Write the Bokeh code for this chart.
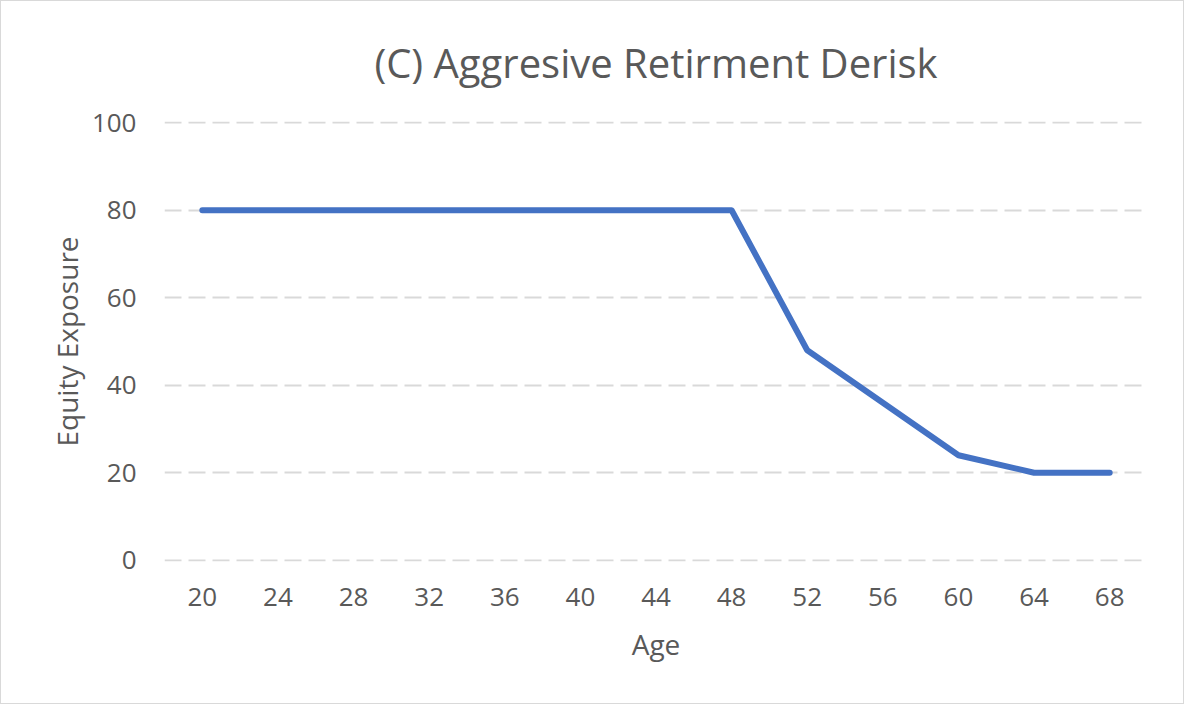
from bokeh.plotting import figure
from bokeh.models import FactorRange, Range1d, FixedTicker
from bokeh.embed import file_html
from bokeh.resources import INLINE

# data
ages = ["20", "24", "28", "32", "36", "40", "44", "48", "52", "56", "60", "64", "68"]
equity_exposure = [80, 80, 80, 80, 80, 80, 80, 80, 48, 36, 24, 20, 20]
y_ticks = [0, 20, 40, 60, 80, 100]
title_text = "(C) Aggresive Retirment Derisk"

TEXT = "#595959"
FONT = "Open Sans"

p = figure(
    width=1184, height=704,
    x_range=FactorRange(factors=ages),
    # small pad so the 0 and 100 gridlines are drawn
    y_range=Range1d(-0.3, 100.3),
    title=title_text,
    output_backend="svg", toolbar_location=None,
    min_border_left=163, min_border_right=38,
    min_border_top=120, min_border_bottom=144,
    styles={"border": "1px solid #d9d9d9"},
)

p.title.align = "center"
p.title.vertical_align = "top"
p.title.text_font = FONT
p.title.text_font_size = "40px"
p.title.text_font_style = "normal"
p.title.text_color = TEXT
p.title.standoff = 60

p.line(ages, equity_exposure, line_color="#4472C4", line_width=6,
       line_cap="round", line_join="round")

# axes: Excel style, no lines or ticks
for ax in (p.xaxis[0], p.yaxis[0]):
    ax.axis_line_color = None
    ax.major_tick_line_color = None
    ax.minor_tick_line_color = None
    ax.major_label_text_font = FONT
    ax.major_label_text_font_size = "26px"
    ax.major_label_text_color = TEXT
    ax.axis_label_text_font = FONT
    ax.axis_label_text_font_size = "28px"
    ax.axis_label_text_font_style = "normal"
    ax.axis_label_text_color = TEXT

p.xaxis.axis_label = "Age"
p.xaxis.major_label_standoff = 20
p.xaxis.axis_label_standoff = 16
p.yaxis.axis_label = "Equity Exposure"
p.yaxis.ticker = FixedTicker(ticks=y_ticks)
p.yaxis.major_label_standoff = 22
p.yaxis.axis_label_standoff = 3

p.xgrid.grid_line_color = None
p.ygrid.grid_line_color = "#d9d9d9"
p.ygrid.grid_line_width = 2
p.ygrid.grid_line_dash = "17 7"

p.outline_line_color = None
p.background_fill_color = "white"
p.border_fill_color = "white"

open("out.html", "w").write(file_html(p, INLINE))
